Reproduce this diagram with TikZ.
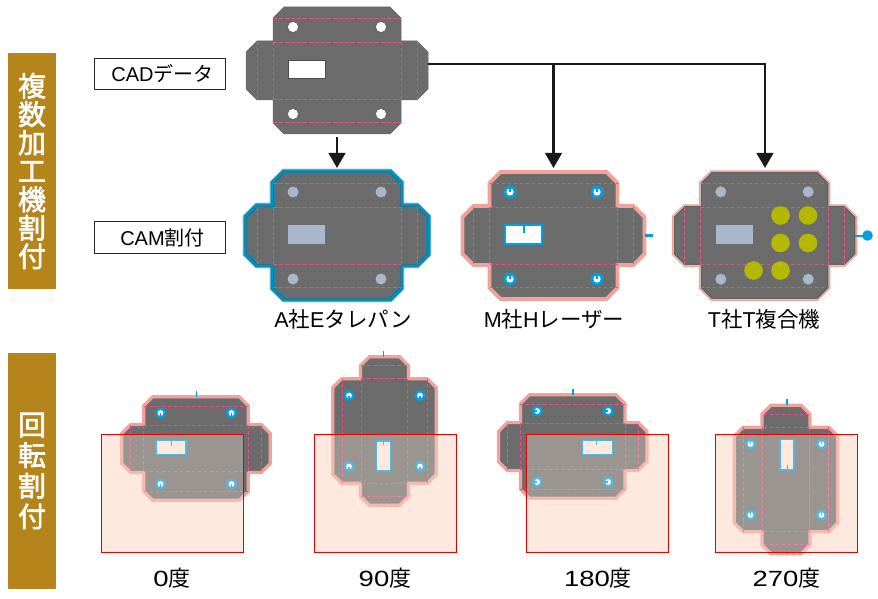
\documentclass[tikz,border=0pt]{standalone}
\usepackage{fontspec}
\setmainfont{Noto Sans CJK JP}
\newfontfamily\latfont{Liberation Sans}
\newfontfamily\digfont[FakeStretch=1.25]{Liberation Sans}
\newfontfamily\barfont[FakeBold=2]{Noto Sans CJK JP}
\usetikzlibrary{arrows.meta}
\definecolor{partgray}{HTML}{6C6C6C}
\definecolor{foldpink}{HTML}{E8508A}
\definecolor{rimpink}{HTML}{F3A29B}
\definecolor{toolblue}{HTML}{009FE0}
\definecolor{rimblue}{HTML}{0A8DB8}
\definecolor{steel}{HTML}{A9B7CC}
\definecolor{olive}{HTML}{B4B800}
\definecolor{ochre}{HTML}{B5851C}
\definecolor{peach}{HTML}{FDE9DD}
\tikzset{
	foldline/.style={foldpink, line width=.8pt, dash pattern=on 3.5pt off 2.5pt},
	flow/.style={-{Triangle[length=15pt,width=16.5pt]}, line width=2.8pt, color=black!90},
	labelbox/.style={draw=black!85, line width=.8pt, minimum width=131.5pt, minimum height=31.5pt, inner sep=0pt, font=\fontsize{20}{20}\selectfont},
	sidebar/.style={fill=ochre, text=white, minimum width=47.5pt, inner sep=0pt, align=center},
	caption/.style={inner sep=0pt, font=\fontsize{21.5}{23}\selectfont},
	anglecap/.style={inner sep=0pt, font=\fontsize{22}{24}\selectfont},
	sheet/.style={draw=red!90!black, line width=1pt}
}
% outline of the part, pushed outwards by #1
\newcommand{\partoutline}[1]{(-53-.414*#1,-63.5-#1) -- (53+.414*#1,-63.5-#1) -- (64+#1,-52.5-.414*#1) -- (64+#1,-29.5-#1) -- (80+.414*#1,-29.5-#1) -- (91+#1,-18.5-.414*#1) -- (91+#1,18.5+.414*#1) -- (80+.414*#1,29.5+#1) -- (64+#1,29.5+#1) -- (64+#1,52.5+.414*#1) -- (53+.414*#1,63.5+#1) -- (-53-.414*#1,63.5+#1) -- (-64-#1,52.5+.414*#1) -- (-64-#1,29.5+#1) -- (-80-.414*#1,29.5+#1) -- (-91-#1,18.5+.414*#1) -- (-91-#1,-18.5-.414*#1) -- (-80-.414*#1,-29.5-#1) -- (-64-#1,-29.5-#1) -- (-64-#1,-52.5-.414*#1) -- cycle}
\newcommand{\foldlines}{
	\draw[foldline] (-64,-52)--(64,-52) (-64,52)--(64,52) (-64,-28.5)--(64,-28.5) (-64,28.5)--(64,28.5);
	\foreach \x in {-80,-64,64,80}{\draw[foldline] (\x,-28.5)--(\x,28.5);}
}
\begin{document}
\begin{tikzpicture}[x=1pt, y=-1pt]
	\useasboundingbox (0,0) rectangle (878,599);
	% side bars and label boxes
	\node[sidebar, minimum height=235.5pt, font=\fontsize{28}{28.4}\selectfont\barfont] (barmulti) at (32,171) {複\\数\\加\\工\\機\\割\\付};
	\node[sidebar, minimum height=236pt, font=\fontsize{28}{30.6}\selectfont\barfont] (barturn) at (32,471) {回\\転\\割\\付};
	\node[labelbox] (cadbox) at (160,74) {\hspace*{5pt}{\latfont CAD}データ};
	\node[labelbox] (cambox) at (160,237.5) {\hspace*{5pt}{\latfont CAM}割付};
	% CAD part
	\begin{scope}[shift={(337,70.5)}]
		\draw[fill=partgray, draw=black!60, line width=.5pt] \partoutline{0};
		\foldlines
		\foreach \x in {-44,44}{\foreach \y in {-43.5,43.5}{\draw[fill=white, draw=black!70, line width=.5pt] (\x,\y) circle(5.5);}}
		\draw[fill=white, draw=black!70, line width=.6pt] (-49,-10.5) rectangle (-12,7.5);
	\end{scope}
	% E: punch
	\begin{scope}[shift={(337,235.5)}]
		\fill[partgray] \partoutline{0};
		\draw[rimblue!45, line width=.6pt] \partoutline{3};
		\draw[rimblue, line width=3.4pt] \partoutline{1};
		\draw[black!70, line width=.5pt] \partoutline{-.9};
		\draw[rimblue, line width=1.1pt] \partoutline{-1.7};
		\foldlines
		\foreach \x in {-44,44}{\foreach \y in {-43.5,43.5}{\fill[steel] (\x,\y) circle(5.5);}}
		\fill[steel] (-49,-10.5) rectangle (-12,8);
	\end{scope}
	% H: laser
	\begin{scope}[shift={(553.5,235.5)}]
		\fill[partgray] \partoutline{0};
		\draw[rimpink, line width=3.6pt, line join=miter] \partoutline{0};
		\foldlines
		\foreach \x in {-43.5,43.5}{\foreach \y in {-43.5,43.5}{
			\fill[toolblue] (\x,\y) circle(6.5);
			\fill[white] (\x,\y) circle(3.6);
			\draw[toolblue, line width=1.6pt] (\x,\y)--++(0,-4);
		}}
		\draw[fill=white, draw=toolblue, line width=2.2pt] (-48.5,-10.5) rectangle (-11.5,8.5);
		\draw[toolblue, line width=2pt] (-30,-10.5)--(-30,-3);
		\draw[toolblue, line width=2.6pt] (91.5,0)--(99.5,0);
	\end{scope}
	% T: combined machine
	\begin{scope}[shift={(764.5,235.5)}]
		\fill[partgray] \partoutline{0};
		\draw[rimpink, line width=1.5pt] \partoutline{1};
		\draw[black!65, line width=.5pt] \partoutline{-.9};
		\foldlines
		\foreach \x in {-43.7,43.7}{\foreach \y in {-43.7,43.7}{\fill[steel] (\x,\y) circle(5.5);}}
		\fill[steel] (-49,-10.5) rectangle (-12,8);
		\foreach \x/\y in {16/-20,43.5/-20,16/7.5,43.5/7.5,-11/35,16/35}{\fill[olive] (\x,\y) circle(9.3);}
		\draw[toolblue, line width=2pt] (90.5,0)--(103,0);
		\fill[toolblue] (103,0) circle(5.3);
	\end{scope}
	% flow from the CAD part
	\coordinate (cadright) at (428,64);
	\coordinate (cadbottom) at (337,137);
	\coordinate (tipe) at (337,168);
	\coordinate (tiph) at (553.5,168);
	\coordinate (tipt) at (765,168);
	\draw[flow] (cadbottom) -- (tipe);
	\draw[flow] (cadright) -| (tiph);
	\draw[flow] (cadright) -| (tipt);
	\node[caption] (cape) at (343,319) {{\latfont A}社{\latfont E}タレパン};
	\node[caption] (caph) at (554,319) {{\latfont M}社{\latfont H}レーザー};
	\node[caption] (capt) at (764,319) {{\latfont T}社{\latfont T}複合機};
	% rotations on the sheet
	\foreach \sx/\cx/\cy/\ang/\nx/\ny/\nl/\slot/\mx/\my/\lx/\txt in {
		101/196/448.5/0/-24.5/-8/5/90/196.5/391/172/0,
		314/384.5/431/90/-1/9/5/90/383.5/351/385/90,
		526/572.7/446.5/180/24/-6.5/5/180/572.7/389/598/180,
		715/786/479.5/270/1.5/-8.5/-6.5/-90/787/399/786.5/270}{
		\fill[peach] (\sx,434) rectangle ++(142,118);
		\begin{scope}[shift={(\cx,\cy)}]
			\begin{scope}[rotate=\ang, scale=.816]
				\fill[partgray] \partoutline{0};
				\draw[rimpink, line width=3.2pt] \partoutline{0};
				\foldlines
				\draw[fill=peach, draw=toolblue, line width=1.6pt] (-49,-10) rectangle (-12,7.5);
			\end{scope}
			\draw[toolblue, line width=1.4pt] (\nx,\ny)--++(0,\nl);
			\foreach \x in {-35.5,35.5}{\foreach \y in {-35.5,35.5}{
				\fill[toolblue] (\x,\y) circle(5.6);
				\fill[white] (\x,\y) circle(2.9);
				\draw[toolblue, line width=1.2pt] (\x,\y)--++(\slot:3.4);
			}}
		\end{scope}
		\fill[peach, opacity=.33] (\sx,434) rectangle ++(142,118);
		\draw[sheet] (\sx,434) rectangle ++(142,118);
		\draw[toolblue, line width=1.8pt] (\mx,\my)--++(0,5.5);
		\node[anglecap] at (\lx,578.5) {{\digfont\txt}度};
	}
\end{tikzpicture}
\end{document}
